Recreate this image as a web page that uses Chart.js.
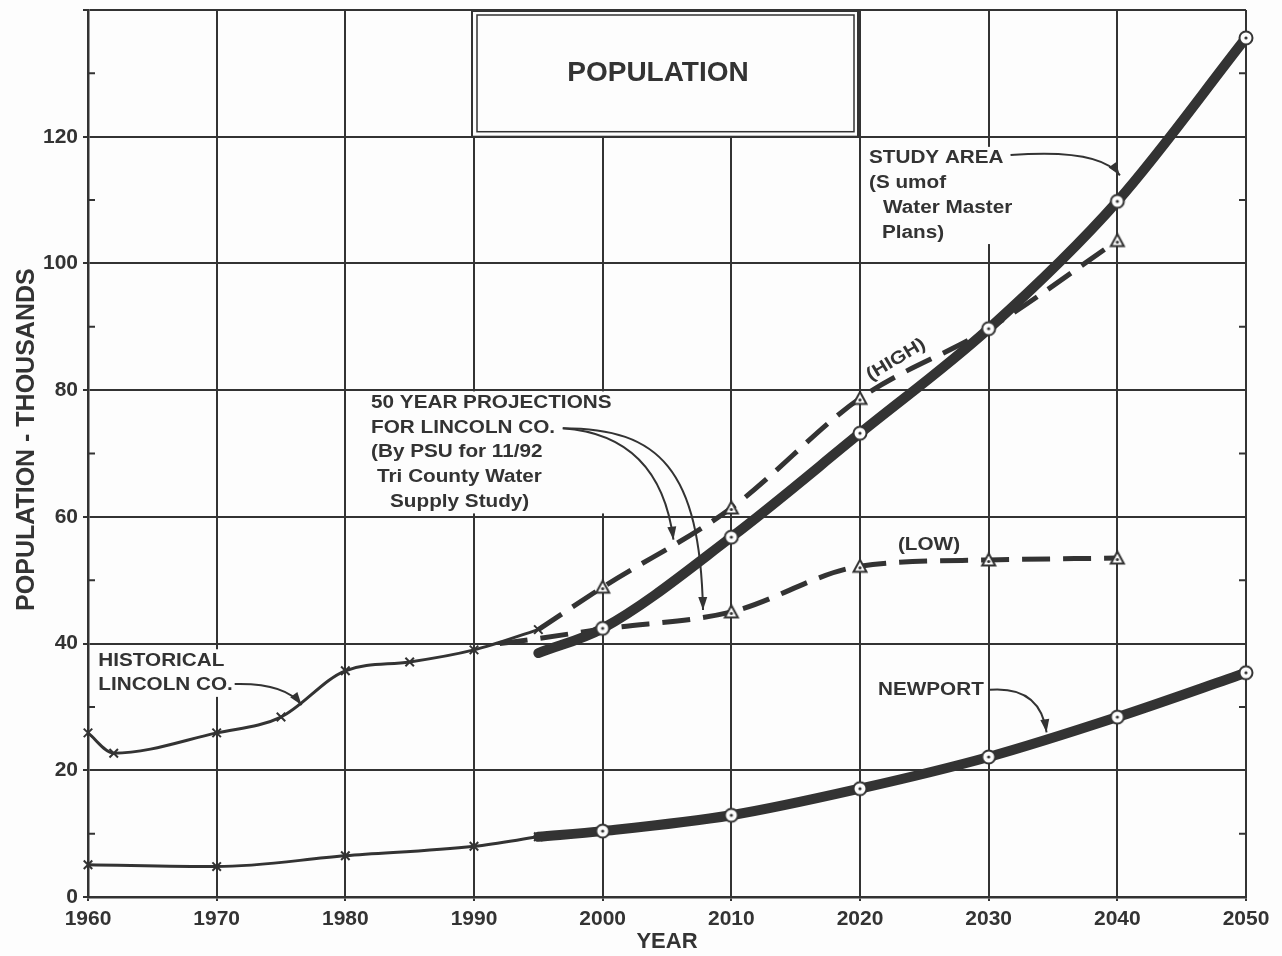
<!DOCTYPE html>
<html>
<head>
<meta charset="utf-8">
<title>Population</title>
<script src="https://cdn.jsdelivr.net/npm/chart.js@4.4.1/dist/chart.umd.min.js"></script>
<style>
  html, body { margin: 0; padding: 0; background: #fdfdfd; }
  #wrap { width: 1282px; height: 956px; }
</style>
</head>
<body>
<div id="wrap"><canvas id="chart"></canvas></div>
<script>
'use strict'

// historical counts, thousands
const lincolnYears = [1960, 1962, 1970, 1975, 1980, 1985, 1990, 1995]
const lincolnHist = [25.9, 22.7, 25.9, 28.4, 35.7, 37.1, 39.0, 42.2]
const newportYears = [1960, 1970, 1980, 1990, 1995]
const newportHist = [5.1, 4.8, 6.5, 8.0, 9.5]

// projections, thousands
const projYears = [1995, 2000, 2010, 2020, 2030, 2040, 2050]
const studyArea = [38.5, 42.4, 56.8, 73.2, 89.7, 109.8, 135.6]
const newportProj = [9.5, 10.4, 12.9, 17.1, 22.1, 28.4, 35.4]
const highYears = [1995, 2000, 2010, 2020, 2030, 2040]
const highProj = [42.2, 48.9, 61.4, 78.7, 89.7, 103.6]
const lowYears = [1992, 1995, 2000, 2010, 2020, 2030, 2040]
const lowProj = [40.0, 40.8, 42.3, 45.0, 52.2, 53.2, 53.5]

const yLabels = [0, 20, 40, 60, 80, 100, 120]

const INK = '#333'
const PAPER = '#fdfdfd'
const FONT = "'Liberation Sans', Arial, sans-serif"

// callouts, anchored in data units (year, thousands)
const noteBlocks = [
    { x: 1960.8, y: 37.3, lines: ['HISTORICAL', 'LINCOLN CO.'], indent: [0, 0] },
    { x: 1982.0, y: 78.0, lines: ['50 YEAR PROJECTIONS', 'FOR LINCOLN CO.', '(By PSU for 11/92', 'Tri County Water', 'Supply Study)'], indent: [0, 0, 0, 6, 19] },
    { x: 2020.7, y: 116.6, lines: ['STUDY AREA', '(S umof', 'Water Master', 'Plans)'], indent: [0, 0, 14, 13] },
    { x: 2021.4, y: 32.7, lines: ['NEWPORT'], indent: [0] },
    { x: 2022.95, y: 55.6, lines: ['(LOW)'], indent: [0], bare: true }
]
const highNote = { x: 2022.8, y: 84.8, text: '(HIGH)', angle: -31 }
const titleBox = { x0: 1990, x1: 2020, y0: 120, y1: 140, tx: 2004.3, ty: 130.0, text: 'POPULATION' }
const arrows = [
    [[1971.4, 33.6], [1975.3, 33.8], [1976.6, 30.3]],
    [[1996.9, 74.0], [2004.45, 72.9], [2005.5, 56.4]],
    [[1996.9, 74.0], [2004.45, 74.0], [2007.55, 67.4], [2007.8, 45.3]],
    [[2031.7, 117.1], [2038.65, 118.2], [2040.2, 113.9]],
    [[2030.1, 32.7], [2034.0, 33.3], [2034.5, 26.0]]
]

function pts (xs, ys) {
    return xs.map((x, i) => ({ x: x, y: ys[i] }))
}

function marker (kind) {
    const c = document.createElement('canvas')
    c.width = 18
    c.height = 18
    const g = c.getContext('2d')
    g.fillStyle = PAPER
    g.strokeStyle = INK
    g.lineWidth = 2
    g.beginPath()
    if (kind === 'circle') {
        g.arc(9, 9, 6.5, 0, Math.PI * 2)
    } else {
        g.moveTo(9, 2.5)
        g.lineTo(15.5, 14.5)
        g.lineTo(2.5, 14.5)
        g.closePath()
    }
    g.fill()
    g.stroke()
    g.fillStyle = INK
    g.beginPath()
    g.arc(9, kind === 'circle' ? 9 : 10.5, 1.6, 0, Math.PI * 2)
    g.fill()
    return c
}

const circleMark = marker('circle')
const triMark = marker('triangle')

// hide a marker where a line only starts or merges
const skipAt = (years) => (ctx) => (ctx.raw && years.includes(ctx.raw.x) ? 0 : 7)

function stretched (ctx, text, x, y, sx, rot) {
    ctx.save()
    ctx.translate(x, y)
    if (rot) ctx.rotate(rot)
    ctx.scale(sx, 1)
    ctx.fillText(text, 0, 0)
    ctx.restore()
}

const paper = {
    id: 'paper',
    beforeDraw (chart) {
        const ctx = chart.ctx
        ctx.save()
        ctx.fillStyle = PAPER
        ctx.fillRect(0, 0, chart.width, chart.height)
        ctx.restore()
    },
    beforeDatasetsDraw (chart) {
        const ctx = chart.ctx
        const xs = chart.scales.x
        const ys = chart.scales.y
        const area = chart.chartArea
        ctx.save()

        // minor ticks on both frame sides
        ctx.strokeStyle = INK
        ctx.lineWidth = 2
        for (let v = 10; v < 140; v += 20) {
            const py = ys.getPixelForValue(v)
            ctx.beginPath()
            ctx.moveTo(area.left, py)
            ctx.lineTo(area.left + 7, py)
            ctx.moveTo(area.right - 7, py)
            ctx.lineTo(area.right, py)
            ctx.stroke()
        }

        // title box
        const bx0 = xs.getPixelForValue(titleBox.x0) - 2
        const bx1 = xs.getPixelForValue(titleBox.x1) - 2
        const by0 = ys.getPixelForValue(titleBox.y1)
        const by1 = ys.getPixelForValue(titleBox.y0)
        ctx.fillStyle = PAPER
        ctx.fillRect(bx0, by0, bx1 - bx0, by1 - by0)
        ctx.lineWidth = 2
        ctx.strokeRect(bx0, by0 + 1, bx1 - bx0, by1 - by0 - 1)
        ctx.lineWidth = 1.5
        ctx.strokeRect(bx0 + 5, by0 + 5, bx1 - bx0 - 9, by1 - by0 - 10)
        ctx.fillStyle = INK
        ctx.font = 'bold 28px ' + FONT
        ctx.textAlign = 'center'
        ctx.textBaseline = 'middle'
        ctx.fillText(titleBox.text, xs.getPixelForValue(titleBox.tx), ys.getPixelForValue(titleBox.ty))

        // callout text
        const sx = 1.15
        const step = 24.8
        ctx.font = 'bold 18px ' + FONT
        ctx.textAlign = 'left'
        noteBlocks.forEach((b) => {
            const left = xs.getPixelForValue(b.x)
            const top = ys.getPixelForValue(b.y)
            let w = 0
            b.lines.forEach((t, i) => {
                w = Math.max(w, ctx.measureText(t).width * sx + b.indent[i])
            })
            if (!b.bare) {
                ctx.fillStyle = PAPER
                ctx.fillRect(left - 4, top - step / 2 + 1, w + 8, step * b.lines.length - 2)
            }
            ctx.fillStyle = INK
            b.lines.forEach((t, i) => {
                stretched(ctx, t, left + b.indent[i], top + i * step, sx, 0)
            })
        })
        ctx.textAlign = 'center'
        stretched(ctx, highNote.text, xs.getPixelForValue(highNote.x), ys.getPixelForValue(highNote.y), sx, highNote.angle * Math.PI / 180)
        ctx.restore()
    },
    afterDatasetsDraw (chart) {
        const ctx = chart.ctx
        const xs = chart.scales.x
        const ys = chart.scales.y
        ctx.save()
        ctx.strokeStyle = INK
        ctx.fillStyle = INK
        ctx.lineWidth = 2
        arrows.forEach((a) => {
            const p = a.map((q) => [xs.getPixelForValue(q[0]), ys.getPixelForValue(q[1])])
            ctx.beginPath()
            ctx.moveTo(p[0][0], p[0][1])
            if (p.length === 3) {
                ctx.quadraticCurveTo(p[1][0], p[1][1], p[2][0], p[2][1])
            } else {
                ctx.bezierCurveTo(p[1][0], p[1][1], p[2][0], p[2][1], p[3][0], p[3][1])
            }
            ctx.stroke()
            const tip = p[p.length - 1]
            const prev = p[p.length - 2]
            const ang = Math.atan2(tip[1] - prev[1], tip[0] - prev[0])
            ctx.save()
            ctx.translate(tip[0], tip[1])
            ctx.rotate(ang)
            ctx.beginPath()
            ctx.moveTo(0, 0)
            ctx.lineTo(-13, -4.5)
            ctx.lineTo(-13, 4.5)
            ctx.closePath()
            ctx.fill()
            ctx.restore()
        })
        ctx.restore()
    }
}

const thin = {
    borderColor: INK,
    borderWidth: 3,
    pointStyle: 'crossRot',
    pointRadius: 6,
    pointBorderWidth: 2,
    pointBorderColor: INK,
    clip: 10,
    fill: false
}

new Chart(document.getElementById('chart'), {
    type: 'line',
    data: {
        datasets: [
            {
                label: 'Study area',
                data: pts(projYears, studyArea),
                borderColor: INK,
                borderWidth: 10,
                borderCapStyle: 'round',
                pointStyle: circleMark,
                pointRadius: skipAt([1995]),
                clip: 10
            },
            {
                label: 'Newport projection',
                data: pts(projYears, newportProj),
                borderColor: INK,
                borderWidth: 10,
                borderCapStyle: 'round',
                pointStyle: circleMark,
                pointRadius: skipAt([1995]),
                clip: 10
            },
            Object.assign({ label: 'Historical Lincoln Co.', data: pts(lincolnYears, lincolnHist) }, thin),
            Object.assign({ label: 'Historical Newport', data: pts(newportYears, newportHist) }, thin),
            {
                label: 'High',
                data: pts(highYears, highProj),
                borderColor: INK,
                borderWidth: 5,
                borderDash: [28, 13],
                pointStyle: triMark,
                pointRadius: skipAt([1995, 2030])
            },
            {
                label: 'Low',
                data: pts(lowYears, lowProj),
                borderColor: INK,
                borderWidth: 5,
                borderDash: [28, 13],
                pointStyle: triMark,
                pointRadius: skipAt([1992, 1995, 2000])
            }
        ]
    },
    options: {
        responsive: true,
        maintainAspectRatio: false,
        devicePixelRatio: 1,
        animation: false,
        events: [],
        layout: { autoPadding: false, padding: { left: 0, right: 36, top: 10, bottom: 0 } },
        elements: { line: { cubicInterpolationMode: 'monotone' } },
        plugins: { legend: { display: false }, tooltip: { enabled: false } },
        scales: {
            x: {
                type: 'linear',
                min: 1960,
                max: 2050,
                afterFit: (s) => { s.height = 59 },
                ticks: {
                    stepSize: 10,
                    color: INK,
                    padding: 6,
                    maxRotation: 0,
                    font: { family: FONT, size: 21, weight: 'bold' },
                    callback: (v) => String(v)
                },
                grid: { color: INK, lineWidth: 2, tickLength: 4 },
                border: { color: INK, width: 2.5 },
                title: {
                    display: true,
                    text: 'YEAR',
                    color: INK,
                    padding: { top: 0, bottom: 1 },
                    font: { family: FONT, size: 22, weight: 'bold' }
                }
            },
            y: {
                min: 0,
                max: 140,
                afterFit: (s) => {
                    s.width = 88
                    s.paddingTop = 0
                    s.paddingBottom = 0
                },
                ticks: {
                    stepSize: 10,
                    color: INK,
                    padding: 5,
                    font: { family: FONT, size: 21, weight: 'bold' },
                    callback: (v) => (yLabels.includes(v) ? String(v) : '')
                },
                grid: {
                    color: (c) => (c.tick && c.tick.value % 20 === 0 ? INK : 'rgba(0,0,0,0)'),
                    lineWidth: 2,
                    tickLength: 5
                },
                border: { color: INK, width: 2.5 },
                title: {
                    display: true,
                    // leading spaces nudge the label up, as in the original
                    text: '    POPULATION - THOUSANDS',
                    color: INK,
                    padding: { top: 12, bottom: 0 },
                    font: { family: FONT, size: 25, weight: 'bold' }
                }
            }
        }
    },
    plugins: [paper]
})
</script>
</body>
</html>
